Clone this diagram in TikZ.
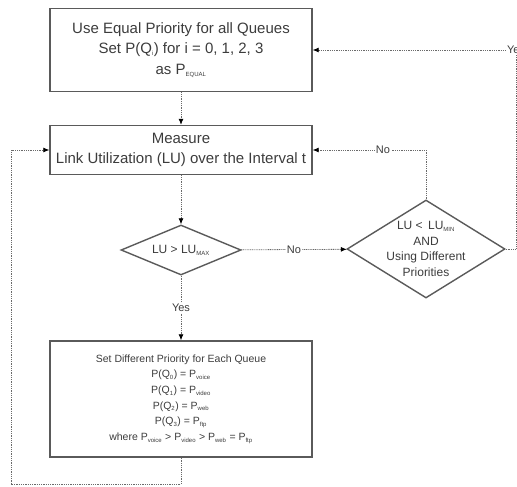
\documentclass[tikz,border=0pt]{standalone}
\usepackage{fontspec}
\setmainfont{Liberation Sans}
\usepackage{xcolor}
\usetikzlibrary{positioning,arrows.meta,shapes.geometric}
\definecolor{cTxt}{HTML}{3C3C3C}
\definecolor{cBox}{HTML}{5A5A5A}
\definecolor{cLine}{HTML}{6A6A6A}
\newcommand{\lowtxt}[1]{\textsubscript{\fontsize{6}{7}\selectfont #1}}

\begin{document}
\begin{tikzpicture}[
  x=1pt, y=-1pt, >={Latex[length=6pt,width=5pt,color=black]},
  font=\fontsize{12}{15}\selectfont, text=cTxt,
  blk/.style={draw=cBox, line width=1.4pt, minimum width=262pt,
              align=center, inner sep=2pt},
  decision/.style={diamond, draw=cBox, line width=1.4pt, inner sep=0pt},
  flow/.style={draw=cLine, line width=0.8pt, dash pattern=on 1pt off 0.8pt},
  lbl/.style={fill=white, inner sep=1pt, font=\fontsize{11}{13}\selectfont},
  small/.style={font=\fontsize{10.5}{15.6}\selectfont},
  dtxt/.style={font=\fontsize{12}{15.6}\selectfont, align=center},
]
  \useasboundingbox (0,0) rectangle (517,487);
  % process boxes
  \node[blk, minimum height=83pt, font=\fontsize{15}{20.5}\selectfont] (init) at (181,50)
    {Use Equal Priority for all Queues\\
     Set P(Q\lowtxt{i}) for i = 0, 1, 2, 3\\
     as P\lowtxt{EQUAL}};
  \node[blk, minimum height=49pt, font=\fontsize{15}{20}\selectfont] (measure) at (181,150)
    {Measure\\Link Utilization (LU) over the Interval t};
  \node[blk, minimum height=116pt, small] (setprio) at (181,399)
    {Set Different Priority for Each Queue\\
     P(Q\lowtxt{0}) = P\lowtxt{voice}\\
     P(Q\lowtxt{1}) = P\lowtxt{video}\\
     P(Q\lowtxt{2}) = P\lowtxt{web}\\
     P(Q\lowtxt{3}) = P\lowtxt{ftp}\\
     where P\lowtxt{voice} > P\lowtxt{video} > P\lowtxt{web} = P\lowtxt{ftp}};
  % decisions
  \node[decision, minimum width=120pt, minimum height=50pt,
        label={[dtxt]center:LU > LU\lowtxt{MAX}}] (maxchk) at (181,250) {};
  \node[decision, minimum width=158pt, minimum height=98pt,
        label={[dtxt]center:LU <\, LU\lowtxt{MIN}\\AND\\Using Different\\Priorities}]
        (minchk) at (426,249) {};
  % bend points
  \coordinate (yescorner) at (516,50);
  \coordinate (loopa) at (11,484);
  % main flow
  \draw[flow, ->] (init) -- (measure);
  \draw[flow, ->] (measure) -- (maxchk);
  \draw[flow, ->] (maxchk) -- node[lbl] {No} (minchk);
  \draw[flow, ->] (maxchk) -- node[lbl] {Yes} (setprio);
  % feedback paths
  \draw[flow, ->] (minchk.north) |- node[lbl, pos=0.69] {No} (measure.east);
  \draw[flow, ->] (minchk.east) -| (yescorner) -- (init.east);
  \node[lbl] (yeslbl) at (yescorner) {Yes};
  \draw[flow, ->] (setprio.south) |- (loopa) |- (measure.west);
\end{tikzpicture}
\end{document}
